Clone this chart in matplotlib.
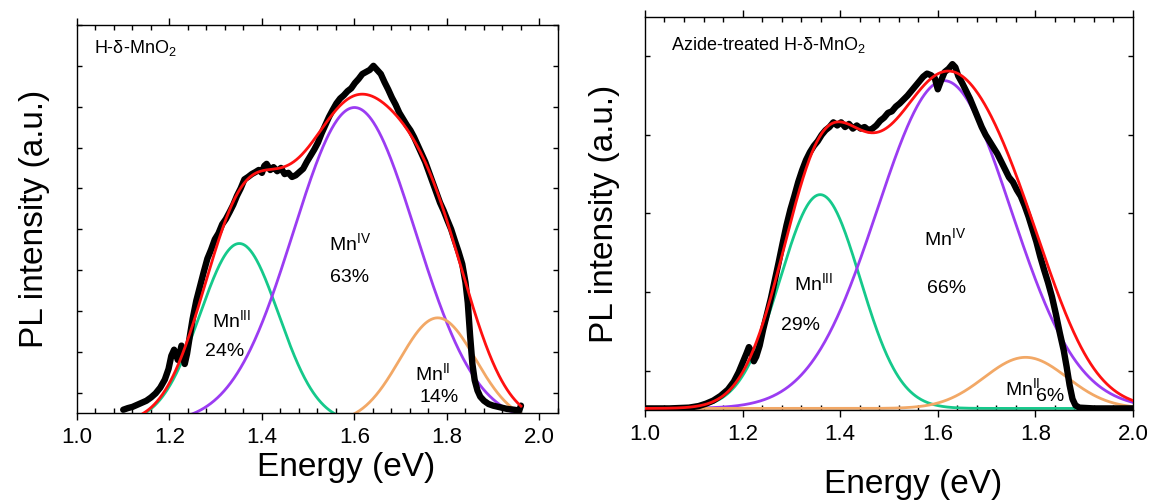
import numpy as np
import matplotlib
matplotlib.use('Agg')
import matplotlib.pyplot as plt
from matplotlib.ticker import MultipleLocator

plt.rcParams['font.family'] = ['Liberation Sans', 'DejaVu Sans']
plt.rcParams['mathtext.fontset'] = 'custom'
plt.rcParams['mathtext.rm'] = 'Liberation Sans'
plt.rcParams['mathtext.it'] = 'Liberation Sans:italic'

left_energy = [1.100, 1.110, 1.120, 1.130, 1.140, 1.150, 1.160, 1.170, 1.180, 1.190,
               1.198, 1.204, 1.210, 1.214, 1.218, 1.222, 1.226, 1.230, 1.233, 1.238,
               1.245, 1.250, 1.258, 1.266, 1.274, 1.282, 1.290, 1.298, 1.306, 1.314,
               1.322, 1.330, 1.338, 1.346, 1.354, 1.362, 1.370, 1.378, 1.386, 1.393,
               1.400, 1.405, 1.410, 1.418, 1.425, 1.433, 1.441, 1.449, 1.457, 1.465,
               1.473, 1.481, 1.489, 1.497, 1.505, 1.513, 1.521, 1.529, 1.537, 1.545,
               1.553, 1.561, 1.569, 1.577, 1.585, 1.593, 1.601, 1.609, 1.617, 1.625,
               1.633, 1.641, 1.649, 1.657, 1.665, 1.673, 1.681, 1.689, 1.697, 1.705,
               1.713, 1.721, 1.729, 1.737, 1.745, 1.753, 1.761, 1.769, 1.777, 1.785,
               1.793, 1.801, 1.809, 1.817, 1.825, 1.833, 1.840, 1.845, 1.850, 1.855,
               1.860, 1.866, 1.872, 1.880, 1.890, 1.900, 1.915, 1.930, 1.945, 1.956,
               1.960]
left_pl = [0.08, 0.12, 0.15, 0.20, 0.25, 0.30, 0.38, 0.48, 0.62, 0.82,
           1.08, 1.40, 1.55, 1.45, 1.30, 1.45, 1.65, 1.40, 1.20, 1.45,
           1.95, 2.30, 2.75, 3.10, 3.45, 3.78, 4.00, 4.25, 4.40, 4.62,
           4.75, 4.92, 5.10, 5.32, 5.50, 5.72, 5.78, 5.85, 5.90, 5.95,
           5.88, 6.05, 6.10, 5.95, 6.02, 5.92, 6.00, 5.85, 5.88, 5.78,
           5.82, 5.90, 5.98, 6.15, 6.30, 6.45, 6.62, 6.85, 7.05, 7.25,
           7.42, 7.58, 7.70, 7.78, 7.88, 7.95, 8.08, 8.18, 8.30, 8.35,
           8.40, 8.50, 8.40, 8.30, 8.10, 7.92, 7.72, 7.55, 7.35, 7.20,
           7.05, 6.92, 6.75, 6.55, 6.35, 6.15, 5.90, 5.65, 5.40, 5.15,
           4.95, 4.72, 4.50, 4.22, 3.95, 3.65, 3.20, 2.70, 1.90, 1.20,
           0.80, 0.55, 0.40, 0.30, 0.22, 0.18, 0.14, 0.10, 0.08, 0.06,
           0.18]

# fitted Gaussian peaks: MnIII, MnIV, MnII (centre eV, height, sigma eV)
left_centres = [1.351, 1.600, 1.780]
left_heights = [4.40, 7.73, 2.58]
left_sigmas = [0.085, 0.132, 0.082]
left_offset = -0.25
left_fit_range = (1.10, 1.96)

# ---- right panel: azide-treated ----
right_energy = [1.000, 1.050, 1.090, 1.110, 1.125, 1.140, 1.155, 1.170, 1.182, 1.192,
                1.200, 1.208, 1.213, 1.218, 1.223, 1.228, 1.235, 1.242, 1.250, 1.258,
                1.266, 1.274, 1.282, 1.290, 1.298, 1.306, 1.314, 1.322, 1.330, 1.338,
                1.346, 1.354, 1.362, 1.370, 1.378, 1.386, 1.394, 1.402, 1.410, 1.418,
                1.426, 1.434, 1.442, 1.450, 1.458, 1.466, 1.474, 1.482, 1.490, 1.498,
                1.506, 1.514, 1.522, 1.530, 1.538, 1.546, 1.554, 1.562, 1.570, 1.578,
                1.586, 1.594, 1.600, 1.606, 1.614, 1.622, 1.630, 1.636, 1.642, 1.650,
                1.658, 1.666, 1.674, 1.682, 1.690, 1.698, 1.706, 1.714, 1.722, 1.730,
                1.738, 1.746, 1.754, 1.762, 1.770, 1.778, 1.786, 1.794, 1.802, 1.810,
                1.818, 1.826, 1.834, 1.842, 1.850, 1.858, 1.864, 1.870, 1.876, 1.882,
                1.890, 1.920, 1.960, 2.000]
right_pl = [0.02, 0.02, 0.03, 0.05, 0.08, 0.12, 0.18, 0.26, 0.36, 0.48,
            0.60, 0.72, 0.80, 0.74, 0.62, 0.68, 0.82, 1.02, 1.22, 1.42,
            1.65, 1.88, 2.12, 2.35, 2.55, 2.72, 2.90, 3.05, 3.18, 3.28,
            3.36, 3.42, 3.50, 3.56, 3.60, 3.66, 3.62, 3.66, 3.60, 3.64,
            3.58, 3.62, 3.58, 3.60, 3.56, 3.58, 3.62, 3.68, 3.72, 3.78,
            3.80, 3.86, 3.90, 3.95, 4.00, 4.06, 4.12, 4.18, 4.24, 4.28,
            4.26, 4.22, 4.08, 4.18, 4.30, 4.34, 4.40, 4.36, 4.25, 4.16,
            4.06, 3.96, 3.84, 3.72, 3.60, 3.50, 3.42, 3.34, 3.26, 3.16,
            3.06, 2.96, 2.90, 2.80, 2.72, 2.60, 2.46, 2.30, 2.14, 1.95,
            1.78, 1.62, 1.44, 1.22, 0.98, 0.76, 0.55, 0.32, 0.14, 0.06,
            0.03, 0.02, 0.02, 0.02]

right_centres = [1.359, 1.613, 1.780]
right_heights = [2.72, 4.17, 0.65]
right_sigmas = [0.082, 0.137, 0.085]
right_offset = 0.02
right_fit_range = (1.0, 2.0)

peak_colors = ['#15c98b', '#9b3cf2', '#f2a866']
fit_color = '#ff1010'


def draw_panel(ax, energy, pl, centres, heights, sigmas, offset, fit_range):
    e = np.linspace(fit_range[0], fit_range[1], 600)
    comps = [h * np.exp(-(e - c) ** 2 / (2 * s ** 2)) for c, h, s in zip(centres, heights, sigmas)]
    for comp, col in zip(comps, peak_colors):
        ax.plot(e, comp + offset, color=col, lw=2.0, zorder=2)
    ax.plot(energy, pl, color='black', lw=4.6, solid_joinstyle='round',
            solid_capstyle='round', zorder=3)
    ax.plot(e, np.sum(comps, axis=0) + offset, color=fit_color, lw=2.0, zorder=4)

    ax.xaxis.set_major_locator(MultipleLocator(0.2))
    ax.xaxis.set_minor_locator(MultipleLocator(0.04))
    ax.yaxis.set_major_locator(MultipleLocator(1, offset=0.5))
    ax.tick_params(axis='x', which='major', direction='out', length=5, width=1,
                   labelsize=16, top=True, pad=5)
    ax.tick_params(axis='x', which='minor', direction='in', length=3.5, width=1, top=True)
    ax.tick_params(axis='y', which='major', direction='in', length=3.5, width=1,
                   right=True, labelleft=False)
    for sp in ax.spines.values():
        sp.set_linewidth(1.0)
    ax.set_xlabel('Energy (eV)', fontsize=24)
    ax.set_ylabel('PL intensity (a.u.)', fontsize=24)


fig = plt.figure(figsize=(11.54, 5.03), dpi=100)

ax1 = fig.add_axes([0.0667, 0.1789, 0.4168, 0.7714])
draw_panel(ax1, left_energy, left_pl, left_centres, left_heights, left_sigmas,
           left_offset, left_fit_range)
ax1.set_xlim(1.0, 2.04)
ax1.set_ylim(0, 9.5)
ax1.set_xticks([1.0, 1.2, 1.4, 1.6, 1.8, 2.0])
ax1.xaxis.set_label_coords(0.559, -0.10)
ax1.yaxis.set_label_coords(-0.056, 0.5)
ax1.text(0.035, 0.94, 'H-δ-MnO$_2$', transform=ax1.transAxes, fontsize=13, va='center')
ax1.text(1.59, 4.17, 'Mn$^{\\mathrm{IV}}$', fontsize=14, ha='center', va='center')
ax1.text(1.59, 3.31, '63%', fontsize=14, ha='center', va='center')
ax1.text(1.335, 2.28, 'Mn$^{\\mathrm{III}}$', fontsize=14, ha='center', va='center')
ax1.text(1.32, 1.50, '24%', fontsize=14, ha='center', va='center')
ax1.text(1.77, 0.98, 'Mn$^{\\mathrm{II}}$', fontsize=14, ha='center', va='center')
ax1.text(1.784, 0.39, '14%', fontsize=14, ha='center', va='center')

ax2 = fig.add_axes([0.5589, 0.1849, 0.4229, 0.7813])
draw_panel(ax2, right_energy, right_pl, right_centres, right_heights, right_sigmas,
           right_offset, right_fit_range)
ax2.set_xlim(1.0, 2.0)
ax2.set_ylim(0, 5)
ax2.xaxis.set_label_coords(0.549, -0.15)
ax2.yaxis.set_label_coords(-0.051, 0.5)
ax2.text(0.053, 0.929, 'Azide-treated H-δ-MnO$_2$', transform=ax2.transAxes,
         fontsize=13, va='center')
ax2.text(1.615, 2.19, 'Mn$^{\\mathrm{IV}}$', fontsize=14, ha='center', va='center')
ax2.text(1.619, 1.55, '66%', fontsize=14, ha='center', va='center')
ax2.text(1.346, 1.61, 'Mn$^{\\mathrm{III}}$', fontsize=14, ha='center', va='center')
ax2.text(1.318, 1.07, '29%', fontsize=14, ha='center', va='center')
ax2.text(1.773, 0.28, 'Mn$^{\\mathrm{II}}$', fontsize=14, ha='center', va='center')
ax2.text(1.83, 0.17, '6%', fontsize=14, ha='center', va='center')

fig.savefig('out.png', dpi=100)
